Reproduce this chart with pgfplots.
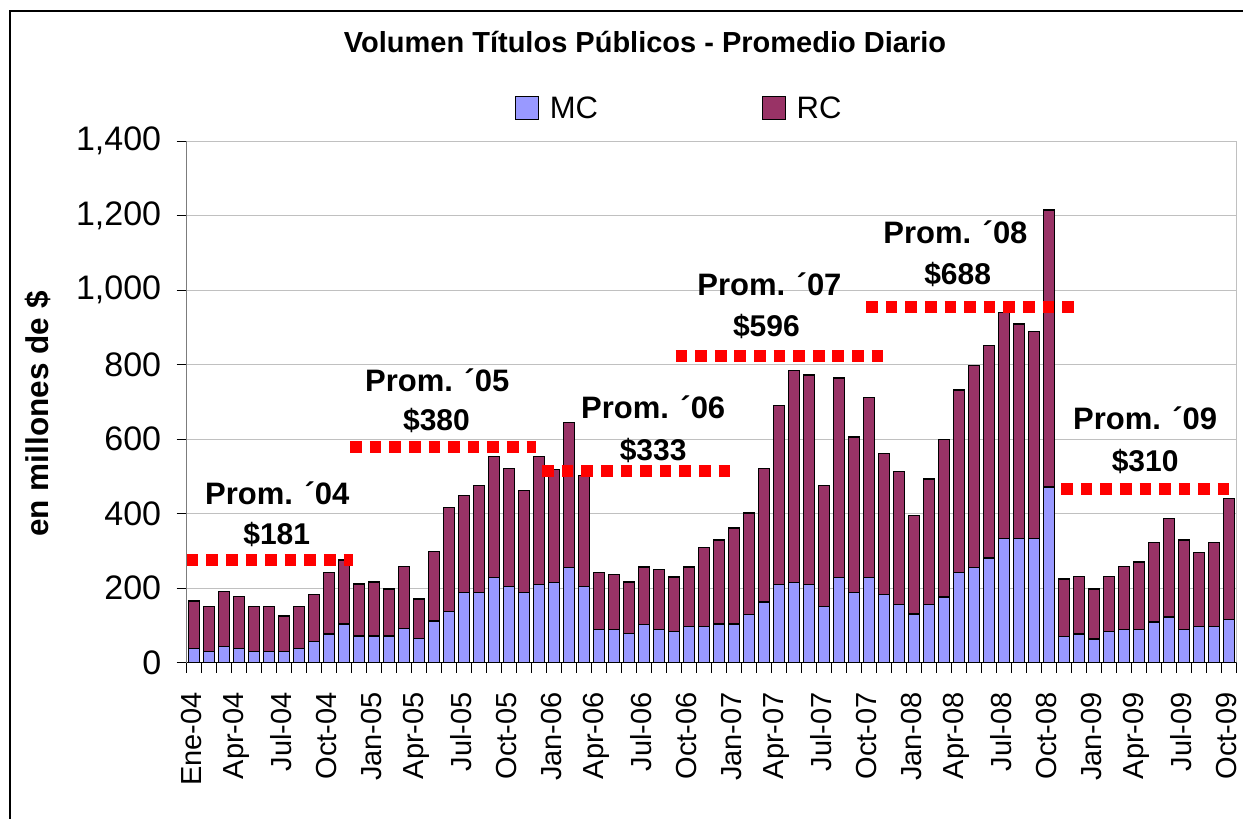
\documentclass[border=0pt]{standalone}
\usepackage{fontspec}
\setmainfont{Liberation Sans}
\usepackage{pgfplots}
\pgfplotsset{compat=1.18}
\usepackage{pgfplotstable}
\definecolor{mcblue}{HTML}{9999FF}
\definecolor{rcpurple}{HTML}{993366}
\definecolor{gridgray}{HTML}{C0C0C0}

\pgfplotstableread{
i mc rc
0 39 127
1 31 119
2 43 149
3 39 138
4 31 119
5 31 119
6 31 94
7 39 111
8 56 128
9 77 166
10 104 172
11 72 139
12 72 145
13 72 126
14 92 166
15 65 106
16 112 186
17 137 279
18 189 259
19 189 286
20 229 324
21 204 317
22 189 273
23 209 344
24 216 303
25 255 390
26 204 298
27 90 153
28 90 147
29 78 139
30 103 154
31 90 161
32 83 147
33 97 160
34 98 212
35 104 225
36 104 258
37 130 272
38 163 358
39 209 482
40 216 569
41 209 563
42 150 325
43 228 536
44 189 417
45 228 484
46 183 378
47 157 357
48 131 264
49 157 336
50 176 424
51 242 490
52 255 542
53 281 570
54 334 607
55 334 575
56 334 556
57 472 743
58 70 155
59 77 154
60 64 134
61 83 148
62 90 168
63 90 180
64 109 214
65 123 265
66 90 239
67 97 199
68 97 226
69 116 325
}\datatable

\pgfplotsset{
  mclegend/.style={legend image code/.code={\draw[fill=mcblue,draw=black,line width=1.2pt] (0pt,-11.5pt) rectangle (23pt,11.5pt); \path[draw=none,fill=none] (0pt,0pt) -- (32pt,0pt);}},
  rclegend/.style={legend image code/.code={\draw[fill=rcpurple,draw=black,line width=1.2pt] (0pt,-11.5pt) rectangle (23pt,11.5pt); \path[draw=none,fill=none] (0pt,0pt) -- (32pt,0pt);}},
}

\begin{document}
\begin{tikzpicture}
\path[use as bounding box] (0pt,0pt) rectangle (1243pt,819pt);
\draw[line width=1.3pt] (10pt,-20pt) -- (10pt,808pt) -- (1260pt,808pt);

\begin{axis}[
  at={(186.7pt,156.3pt)}, anchor=south west,
  scale only axis, width=1050pt, height=521.5pt,
  xmin=-0.5, xmax=69.5, ymin=0, ymax=1400,
  ybar stacked, bar width=0.72,
  ytick={0,200,...,1400},
  ymajorgrids, grid style={draw=gridgray, line width=1pt},
  xtick={-0.5,0.5,...,69.5}, xticklabels={},
  extra x ticks={0,3,6,9,12,15,18,21,24,27,30,33,36,39,42,45,48,51,54,57,60,63,66,69},
  extra x tick labels={Ene-04,Apr-04,Jul-04,Oct-04,Jan-05,Apr-05,Jul-05,Oct-05,Jan-06,Apr-06,Jul-06,Oct-06,Jan-07,Apr-07,Jul-07,Oct-07,Jan-08,Apr-08,Jul-08,Oct-08,Jan-09,Apr-09,Jul-09,Oct-09},
  extra x tick style={tick style={draw=none}},
  tick align=outside, major tick length=10pt,
  tick style={black, line width=1pt},
  xtick pos=bottom, ytick pos=left,
  axis line style={draw=gridgray, line width=1pt},
  xticklabel style={rotate=90, anchor=east, font=\fontsize{29}{30}\selectfont, xshift=-16pt, yshift=3pt},
  yticklabel style={font=\fontsize{34}{36}\selectfont, xshift=-12pt},
  /pgf/number format/.cd, 1000 sep={,}, assume math mode=true, /pgfplots/.cd,
  legend columns=2,
  legend style={at={(0.3127,1.0637)}, anchor=west, draw=none, fill=none, inner sep=0pt,
    font=\fontsize{31}{33}\selectfont,
    /tikz/every even column/.append style={column sep=162pt}},
]
\addplot[fill=mcblue, draw=black, line width=1.3pt, mclegend] table[x=i,y=mc]{\datatable};
\addlegendentry{MC}
\addplot[fill=rcpurple, draw=black, line width=1.3pt, rclegend] table[x=i,y=rc]{\datatable};
\addlegendentry{RC}
\draw[black, line width=1.3pt] (rel axis cs:0,1) -- (rel axis cs:0,0) -- (rel axis cs:1,0);
\end{axis}

\begin{axis}[
  at={(186.7pt,156.3pt)}, anchor=south west,
  scale only axis, width=1050pt, height=521.5pt,
  xmin=-0.5, xmax=69.5, ymin=0, ymax=1400,
  hide axis, clip=false,
]
\addplot[red, line width=12pt, dash pattern=on 11.7pt off 7.9pt, no markers] coordinates {(-0.5,276) (10.6,276)};
\addplot[red, line width=12pt, dash pattern=on 11.7pt off 7.9pt, no markers] coordinates {(10.4,578) (22.8,578)};
\addplot[red, line width=12pt, dash pattern=on 11.7pt off 7.9pt, no markers] coordinates {(23.2,514) (35.7,514)};
\addplot[red, line width=12pt, dash pattern=on 11.7pt off 7.9pt, no markers] coordinates {(32.1,823) (46.0,823)};
\addplot[red, line width=12pt, dash pattern=on 11.7pt off 7.9pt, no markers] coordinates {(44.8,954) (58.7,954)};
\addplot[red, line width=12pt, dash pattern=on 11.7pt off 7.9pt, no markers] coordinates {(57.8,465) (69.0,465)};
\tikzset{plab/.style={anchor=base, font=\fontsize{31}{33}\selectfont\bfseries, inner sep=0pt},
         vlab/.style={anchor=base, font=\fontsize{30}{32}\selectfont\bfseries, inner sep=0pt}}
\node[plab] at (axis cs:5.54,426) {Prom. ´04};
\node[vlab] at (axis cs:5.5,316) {\$181};
\node[plab] at (axis cs:16.2,729) {Prom. ´05};
\node[vlab] at (axis cs:16.15,622) {\$380};
\node[plab] at (axis cs:30.6,656) {Prom. ´06};
\node[vlab] at (axis cs:30.6,544) {\$333};
\node[plab] at (axis cs:38.35,987) {Prom. ´07};
\node[vlab] at (axis cs:38.15,875) {\$596};
\node[plab] at (axis cs:50.75,1126) {Prom. ´08};
\node[vlab] at (axis cs:50.9,1014) {\$688};
\node[plab] at (axis cs:63.4,625) {Prom. ´09};
\node[vlab] at (axis cs:63.4,513) {\$310};
\end{axis}

\node[anchor=base, font=\fontsize{29}{31}\selectfont\bfseries] at (645pt,766pt) {Volumen Títulos Públicos - Promedio Diario};
\node[rotate=90, font=\fontsize{31.5}{33}\selectfont\bfseries] at (38pt,405pt) {en millones de \$};
\end{tikzpicture}
\end{document}
